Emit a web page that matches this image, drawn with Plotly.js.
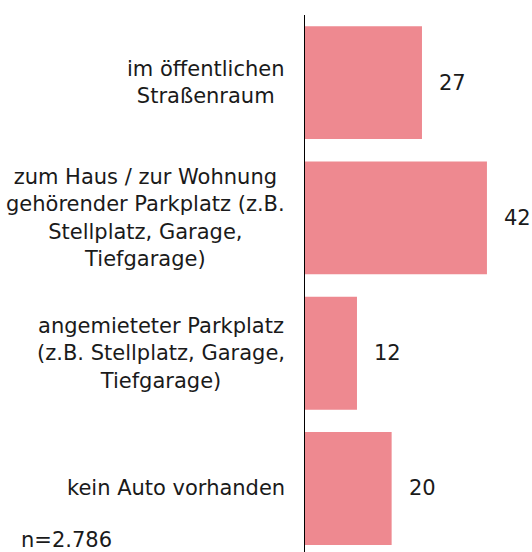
<!DOCTYPE html>
<html>
<head>
<meta charset="utf-8">
<script src="https://cdn.plot.ly/plotly-3.0.1.min.js"></script>
<style>html,body{margin:0;padding:0;background:#fff;}#chart{width:532px;height:552px;}</style>
</head>
<body>
<div id="chart"></div>
<script>
var categories = [
  "im öffentlichen<br>Straßenraum",
  "zum Haus / zur Wohnung<br>gehörender Parkplatz (z.B.<br>Stellplatz, Garage,<br>Tiefgarage)",
  "angemieteter Parkplatz<br>(z.B. Stellplatz, Garage,<br>Tiefgarage)",
  "kein Auto vorhanden"
];
var values = [27, 42, 12, 20];
var note = "n=2.786";

var FONT = "DejaVu Sans, sans-serif";
var TXT = "#1a1a1a";
var FS = 21;

var trace = {
  type: "bar",
  orientation: "h",
  x: values,
  y: categories,
  marker: {color: "#ee8990", line: {width: 0}},
  hoverinfo: "skip"
};

var annotations = [];
categories.forEach(function(c, i) {
  annotations.push({
    x: 0, y: c, xref: "x", yref: "y",
    text: c, showarrow: false, xanchor: "right", yanchor: "middle",
    align: "center", xshift: -19, borderpad: 0,
    font: {family: FONT, size: FS, color: TXT}
  });
  annotations.push({
    x: values[i], y: c, xref: "x", yref: "y",
    text: String(values[i]), showarrow: false, xanchor: "left", yanchor: "middle",
    xshift: 16, borderpad: 0,
    font: {family: FONT, size: FS, color: TXT}
  });
});
annotations.push({
  x: 0, y: 0, xref: "paper", yref: "paper",
  text: note, showarrow: false, xanchor: "left", yanchor: "bottom",
  xshift: -285, yshift: -1, borderpad: 0,
  font: {family: FONT, size: FS, color: TXT}
});

var layout = {
  width: 532, height: 552,
  margin: {l: 305, r: 0, t: 15, b: 0, pad: 0},
  paper_bgcolor: "#fff", plot_bgcolor: "#fff",
  showlegend: false,
  bargap: 0.165,
  xaxis: {range: [0, 52.4], showgrid: false, zeroline: false, showticklabels: false, ticks: "", showline: false, fixedrange: true},
  yaxis: {type: "category", range: [3.47, -0.5], showgrid: false, zeroline: false, showticklabels: false, ticks: "",
          showline: true, linecolor: "#000", linewidth: 1, fixedrange: true},
  annotations: annotations
};

Plotly.newPlot("chart", [trace], layout, {displayModeBar: false, staticPlot: true});
</script>
</body>
</html>
